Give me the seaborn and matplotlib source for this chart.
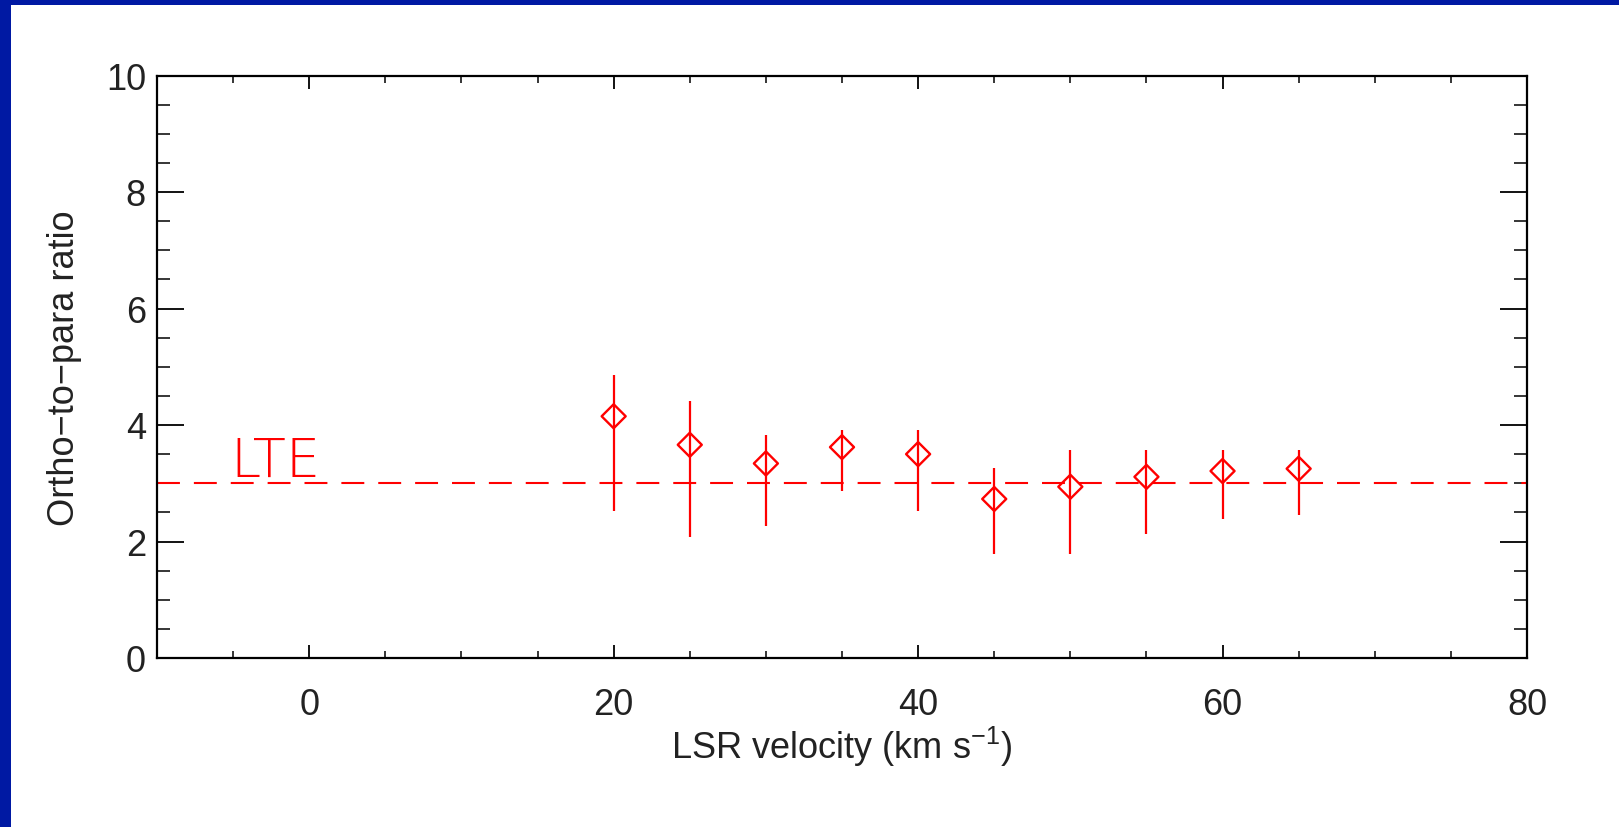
import matplotlib
matplotlib.use("Agg")
import matplotlib.pyplot as plt
from matplotlib.patches import Rectangle
from matplotlib.ticker import MultipleLocator
import numpy as np
import pandas as pd
import seaborn as sns

# LSR velocity channels (km/s) and ortho-to-para ratio per channel
velocity = [20, 25, 30, 35, 40, 45, 50, 55, 60, 65]
ratio = [4.15, 3.66, 3.34, 3.62, 3.50, 2.73, 2.94, 3.11, 3.21, 3.25]
ratio_upper = [4.86, 4.42, 3.82, 3.91, 3.91, 3.26, 3.57, 3.57, 3.57, 3.57]
ratio_lower = [2.53, 2.08, 2.27, 2.87, 2.53, 1.79, 1.79, 2.13, 2.38, 2.45]
lte_value = 3.0

x_ticks = [0, 20, 40, 60, 80]
y_ticks = [0, 2, 4, 6, 8, 10]

sns.set_theme(style="white")
plt.rcParams["font.family"] = ["Liberation Sans", "DejaVu Sans"]
plt.rcParams["mathtext.default"] = "regular"

df = pd.DataFrame({"velocity": velocity, "ratio": ratio})

fig = plt.figure(figsize=(16.19, 8.28), dpi=100)
fig.patch.set_facecolor("white")
# dark blue frame along the top and left edges
fig.patches.append(Rectangle((0, 1 - 6 / 828), 1, 6 / 828, transform=fig.transFigure,
                             facecolor="#0019a3", edgecolor="none", zorder=10))
fig.patches.append(Rectangle((0, 0), 11 / 1619, 1, transform=fig.transFigure,
                             facecolor="#0019a3", edgecolor="none", zorder=10))

ax = fig.add_axes([157 / 1619, 1 - 659 / 828, (1527 - 157) / 1619, (659 - 76.5) / 828])

red = "#ff0000"
ax.axhline(lte_value, color=red, lw=1.5, dashes=(11, 6.7), zorder=2)

yerr = np.array([np.array(ratio) - np.array(ratio_lower),
                 np.array(ratio_upper) - np.array(ratio)])
ax.errorbar(velocity, ratio, yerr=yerr, fmt="none", ecolor=red, elinewidth=1.6,
            capsize=0, zorder=3)
sns.scatterplot(data=df, x="velocity", y="ratio", ax=ax, marker="D", s=150,
                facecolors="none", edgecolor=red, linewidth=1.7, zorder=4)

ax.text(-5.2, 3.12, "LTE", color=red, fontsize=39, fontweight="ultralight",
        family=["DejaVu Sans"], ha="left", va="baseline")

ax.set_xlim(-10, 80)
ax.set_ylim(0, 10)
ax.set_xticks(x_ticks)
ax.set_yticks(y_ticks)
ax.xaxis.set_minor_locator(MultipleLocator(5))
ax.yaxis.set_minor_locator(MultipleLocator(0.5))

for s in ax.spines.values():
    s.set_color("black")
    s.set_linewidth(1.6)

label_color = "#222222"
ax.tick_params(axis="x", which="major", direction="in", length=9.5, width=1.3,
               top=True, bottom=True, labelsize=26, pad=21, colors="black",
               labelcolor=label_color)
ax.tick_params(axis="x", which="minor", direction="in", length=5, width=1.3,
               top=True, bottom=True)
ax.tick_params(axis="y", which="major", direction="in", length=19.5, width=1.3,
               left=True, right=True, labelsize=26, pad=8, colors="black",
               labelcolor=label_color)
ax.tick_params(axis="y", which="minor", direction="in", length=9.5, width=1.3,
               left=True, right=True)

ax.set_xlabel("LSR velocity (km s$^{-1}$)", fontsize=26, color=label_color, labelpad=1)
ax.set_ylabel("Ortho\u2212to\u2212para ratio", fontsize=26, color=label_color, labelpad=17)
ax.grid(False)

fig.savefig("out.png", dpi=100, facecolor="white")
